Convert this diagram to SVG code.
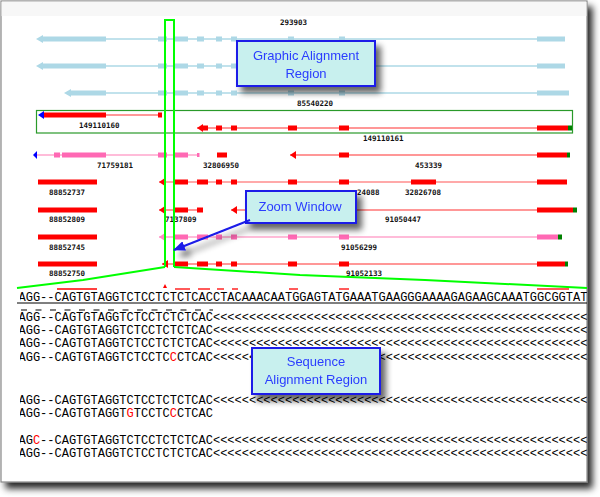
<svg xmlns="http://www.w3.org/2000/svg" width="600" height="497" viewBox="0 0 600 497">
<style>
.lb{fill:#add8e6}.lbl{stroke:#add8e6;stroke-width:1.3}
.r{fill:#ff0000}.rl{stroke:#ff3030;stroke-width:1.2}
.pk{fill:#ff69b4}.pkl{stroke:#ffa6cc;stroke-width:1.4}
.sl{stroke:#ff8c8c;stroke-width:1.4}
.gr{fill:#008000}.bl{fill:#0000ff}
.num{font-family:"DejaVu Sans Mono","Liberation Mono",monospace;font-size:7.5px;font-weight:bold;fill:#111}
.seq{font-family:"Liberation Mono","Courier New",monospace;font-size:12px;fill:#000}
.red{fill:#ff0000}
.call rect{fill:#c8f0ee;stroke:#1a1ae8;stroke-width:2}
.call text{font-family:"Liberation Sans",Arial,sans-serif;font-size:13px;fill:#2a3cff;text-anchor:middle}
.zl{fill:none;stroke:#00ff00;stroke-width:2}
</style>
<defs>
<filter id="fs" x="-5%" y="-5%" width="115%" height="115%"><feGaussianBlur in="SourceAlpha" stdDeviation="3.5"/><feOffset dx="5" dy="6"/><feComponentTransfer><feFuncA type="linear" slope="0.85"/></feComponentTransfer><feMerge><feMergeNode/><feMergeNode in="SourceGraphic"/></feMerge></filter>
<filter id="cs" x="-20%" y="-30%" width="150%" height="180%"><feGaussianBlur in="SourceAlpha" stdDeviation="3"/><feOffset dx="5" dy="6"/><feComponentTransfer><feFuncA type="linear" slope="0.6"/></feComponentTransfer><feMerge><feMergeNode/><feMergeNode in="SourceGraphic"/></feMerge></filter>
<marker id="ah" markerWidth="12" markerHeight="10" refX="11" refY="5" orient="auto" markerUnits="userSpaceOnUse"><path d="M0,0 L12,5 L0,10 z" fill="#1a1ae8"/></marker>
<clipPath id="sc"><rect x="20" y="280" width="567" height="200"/></clipPath>
</defs>

<g id="frame" filter="url(#fs)"><rect x="1" y="1" width="586" height="481" fill="#fff" stroke="#888" stroke-width="1.2"/></g>
<rect x="1.6" y="1.6" width="584.8" height="14.5" fill="#f7f7f7"/>

<g id="rowA" transform="translate(0,39)">
<line class="lbl" x1="106" y1="0" x2="565" y2="0"/>
<polygon class="lb" points="36,0 43,-4 43,4"/>
<rect class="lb" x="42" y="-2.5" width="64" height="5"/>
<rect class="lb" x="158" y="-2.5" width="9" height="5"/><rect class="lb" x="175" y="-2.5" width="13" height="5"/><rect class="lb" x="197" y="-2.5" width="7" height="5"/><rect class="lb" x="216" y="-2.5" width="6" height="5"/><rect class="lb" x="231" y="-2.5" width="6" height="5"/><rect class="lb" x="288" y="-2.5" width="6" height="5"/><rect class="lb" x="339" y="-2.5" width="6" height="5"/><rect class="lb" x="537" y="-2.5" width="28" height="5"/>
</g>
<g id="rowB" transform="translate(0,66)">
<line class="lbl" x1="106" y1="0" x2="565" y2="0"/>
<polygon class="lb" points="36,0 43,-4 43,4"/>
<rect class="lb" x="42" y="-2.5" width="64" height="5"/>
<rect class="lb" x="158" y="-2.5" width="9" height="5"/><rect class="lb" x="175" y="-2.5" width="13" height="5"/><rect class="lb" x="197" y="-2.5" width="7" height="5"/><rect class="lb" x="216" y="-2.5" width="6" height="5"/><rect class="lb" x="231" y="-2.5" width="6" height="5"/><rect class="lb" x="288" y="-2.5" width="6" height="5"/><rect class="lb" x="339" y="-2.5" width="6" height="5"/><rect class="lb" x="537" y="-2.5" width="28" height="5"/>
</g>
<g id="rowC" transform="translate(0,93)">
<line class="lbl" x1="106" y1="0" x2="569" y2="0"/>
<polygon class="lb" points="64,0 71,-4 71,4"/>
<rect class="lb" x="70" y="-2.5" width="36" height="5"/>
<rect class="lb" x="158" y="-2.5" width="9" height="5"/><rect class="lb" x="175" y="-2.5" width="13" height="5"/><rect class="lb" x="197" y="-2.5" width="7" height="5"/><rect class="lb" x="216" y="-2.5" width="6" height="5"/><rect class="lb" x="231" y="-2.5" width="6" height="5"/><rect class="lb" x="288" y="-2.5" width="6" height="5"/><rect class="lb" x="339" y="-2.5" width="6" height="5"/><rect class="lb" x="537" y="-2.5" width="32" height="5"/>
</g>

<g id="selbox"><rect x="36.5" y="110.5" width="536" height="22.5" fill="none" stroke="#2a9a2a" stroke-width="1.2"/></g>
<g id="rowD" transform="translate(0,115)">
<line class="rl" x1="106" y1="0" x2="158" y2="0"/>
<polygon class="bl" points="38,0 44,-4 44,4"/>
<rect class="r" x="44" y="-2.5" width="62" height="5"/>
<rect class="r" x="158" y="-2.5" width="4" height="5"/>
</g>
<g id="rowE" transform="translate(0,128)">
<line class="rl" x1="197" y1="0" x2="568" y2="0"/>
<polygon class="r" points="197,0 203,-4 203,4"/>
<rect class="r" x="203" y="-2.5" width="5" height="5"/><rect class="r" x="216" y="-2.5" width="6" height="5"/><rect class="r" x="231" y="-2.5" width="6" height="5"/><rect class="r" x="288" y="-2.5" width="9" height="5"/><rect class="r" x="339" y="-2.5" width="10" height="5"/><rect class="r" x="537" y="-2.5" width="31" height="5"/><rect class="gr" x="568" y="-2.5" width="4" height="5"/>
</g>
<g id="rowF" transform="translate(0,155)">
<line class="pkl" x1="36" y1="0" x2="199" y2="0"/>
<polygon class="bl" points="33,0 37,-4 37,4"/>
<rect class="pk" x="54" y="-2.5" width="6" height="5"/><rect class="pk" x="62" y="-2.5" width="44" height="5"/><rect class="pk" x="158" y="-2.5" width="9" height="5"/><rect class="pk" x="175" y="-2.5" width="13" height="5"/><rect class="pk" x="197" y="-2" width="2.5" height="4"/>
<rect class="r" x="217" y="-2.5" width="10" height="5"/>
<line class="rl" x1="290" y1="0" x2="567" y2="0"/>
<polygon class="r" points="290,0 296,-4 296,4"/>
<rect class="r" x="339" y="-2.5" width="10" height="5"/><rect class="r" x="537" y="-2.5" width="30" height="5"/><rect class="gr" x="567" y="-2.5" width="3" height="5"/>
</g>
<g id="rowG" transform="translate(0,182)">
<rect class="r" x="38" y="-2.5" width="59" height="5"/>
<line class="sl" x1="159" y1="0" x2="567" y2="0"/>
<polygon class="r" points="159,0 165,-4 165,4"/>
<rect class="r" x="175" y="-2.5" width="13" height="5"/><rect class="r" x="197" y="-2.5" width="11" height="5"/><rect class="r" x="216" y="-2.5" width="6" height="5"/><rect class="r" x="231" y="-2.5" width="6" height="5"/><rect class="r" x="288" y="-2.5" width="9" height="5"/><rect class="r" x="339" y="-2.5" width="10" height="5"/><rect class="r" x="411" y="-2.5" width="25" height="5"/><rect class="r" x="537" y="-2.5" width="30" height="5"/>
</g>
<g id="rowH" transform="translate(0,210)">
<rect class="r" x="38" y="-2.5" width="59" height="5"/>
<line class="rl" x1="159" y1="0" x2="203" y2="0"/>
<polygon class="r" points="159,0 165,-4 165,4"/>
<rect class="r" x="175" y="-2.5" width="13" height="5"/><rect class="r" x="197" y="-2.5" width="6" height="5"/>
<line class="rl" x1="231" y1="0" x2="577" y2="0"/>
<polygon class="r" points="231,0 237,-4 237,4"/>
<rect class="r" x="537" y="-2.5" width="36" height="5"/><rect class="gr" x="573" y="-2.5" width="4" height="5"/>
</g>
<g id="rowI" transform="translate(0,237)">
<rect class="r" x="38" y="-2.5" width="59" height="5"/>
<line class="pkl" x1="159" y1="0" x2="562" y2="0"/>
<polygon class="pk" points="159,0 165,-4 165,4" style="fill:#ff8cc6"/>
<rect class="pk" x="175" y="-2.5" width="13" height="5"/><rect class="pk" x="197" y="-2.5" width="11" height="5"/><rect class="pk" x="216" y="-2.5" width="6" height="5"/><rect class="pk" x="231" y="-2.5" width="6" height="5"/><rect class="pk" x="288" y="-2.5" width="9" height="5"/><rect class="pk" x="339" y="-2.5" width="10" height="5"/><rect class="pk" x="537" y="-2.5" width="21" height="5"/><rect class="gr" x="558" y="-2.5" width="4" height="5"/>
</g>
<g id="rowJ" transform="translate(0,264)">
<rect class="r" x="38" y="-2.5" width="59" height="5"/>
<line class="rl" x1="162" y1="0" x2="568" y2="0"/>
<polygon class="r" points="162,0 168,-4 168,4"/>
<rect class="r" x="175" y="-2.5" width="13" height="5"/><rect class="r" x="197" y="-2.5" width="11" height="5"/><rect class="r" x="216" y="-2.5" width="6" height="5"/><rect class="r" x="231" y="-2.5" width="6" height="5"/><rect class="r" x="288" y="-2.5" width="9" height="5"/><rect class="r" x="339" y="-2.5" width="10" height="5"/><rect class="r" x="537" y="-2.5" width="28" height="5"/><rect class="gr" x="565" y="-2.5" width="3" height="5"/>
</g>

<g id="labels" class="num">
<text x="280" y="25">293903</text>
<text x="297" y="106">85540220</text>
<text x="79" y="128">149110160</text>
<text x="363" y="141">149110161</text>
<text x="97" y="168">71759181</text>
<text x="203" y="168">32806950</text>
<text x="415" y="168">453339</text>
<text x="49" y="195">88852737</text>
<text x="357" y="195">24088</text>
<text x="405" y="195">32826708</text>
<text x="49" y="222">88852809</text>
<text x="165" y="222">7137809</text>
<text x="385" y="222">91050447</text>
<text x="49" y="250">88852745</text>
<text x="341" y="250">91056299</text>
<text x="49" y="276">88852750</text>
<text x="346" y="276">91052133</text>
</g>

<g id="connectors">
<path class="zl" d="M165,267 V20 H174 V267"/>
<polyline class="zl" points="165,267 83,280 17,288"/>
<polyline class="zl" points="174,267 300,275 425,280 587,288"/>
</g>

<g id="sequences">
<g stroke="#ff0000" stroke-width="1.3">
<line x1="57" y1="289" x2="97" y2="289"/><line x1="175" y1="289" x2="190" y2="289"/><line x1="198" y1="289" x2="210" y2="289"/><line x1="217" y1="289" x2="224" y2="289"/><line x1="232" y1="289" x2="238" y2="289"/><line x1="289" y1="289" x2="298" y2="289"/><line x1="339" y1="289" x2="349" y2="289"/><line x1="537" y1="289" x2="569" y2="289"/>
</g>
<polygon points="163,288 167,288 165,284" fill="#ff0000"/>
<line x1="17" y1="303" x2="587" y2="303" stroke="#000" stroke-width="1"/>
<line x1="21" y1="310" x2="213" y2="310" stroke="#000" stroke-width="1" stroke-dasharray="6 8.5"/>
<g clip-path="url(#sc)" class="seq">
<text x="18.5" y="300.5">AGG--CAGTGTAGGTCTCCTCTCTCACCTACAAACAATGGAGTATGAAATGAAGGGAAAAGAGAAGCAAATGGCGGTAT</text>
<text x="18.5" y="320.5">AGG--CAGTGTAGGTCTCCTCTCTCAC&lt;&lt;&lt;&lt;&lt;&lt;&lt;&lt;&lt;&lt;&lt;&lt;&lt;&lt;&lt;&lt;&lt;&lt;&lt;&lt;&lt;&lt;&lt;&lt;&lt;&lt;&lt;&lt;&lt;&lt;&lt;&lt;&lt;&lt;&lt;&lt;&lt;&lt;&lt;&lt;&lt;&lt;&lt;&lt;&lt;&lt;&lt;&lt;&lt;&lt;&lt;&lt;&lt;</text>
<text x="18.5" y="333.5">AGG--CAGTGTAGGTCTCCTCTCTCAC&lt;&lt;&lt;&lt;&lt;&lt;&lt;&lt;&lt;&lt;&lt;&lt;&lt;&lt;&lt;&lt;&lt;&lt;&lt;&lt;&lt;&lt;&lt;&lt;&lt;&lt;&lt;&lt;&lt;&lt;&lt;&lt;&lt;&lt;&lt;&lt;&lt;&lt;&lt;&lt;&lt;&lt;&lt;&lt;&lt;&lt;&lt;&lt;&lt;&lt;&lt;&lt;&lt;</text>
<text x="18.5" y="347">AGG--CAGTGTAGGTCTCCTCTCTCAC&lt;&lt;&lt;&lt;&lt;&lt;&lt;&lt;&lt;&lt;&lt;&lt;&lt;&lt;&lt;&lt;&lt;&lt;&lt;&lt;&lt;&lt;&lt;&lt;&lt;&lt;&lt;&lt;&lt;&lt;&lt;&lt;&lt;&lt;&lt;&lt;&lt;&lt;&lt;&lt;&lt;&lt;&lt;&lt;&lt;&lt;&lt;&lt;&lt;&lt;&lt;&lt;&lt;</text>
<text x="18.5" y="360.5">AGG--CAGTGTAGGTCTCCTC<tspan class="red">C</tspan>CTCAC&lt;&lt;&lt;&lt;&lt;&lt;&lt;&lt;&lt;&lt;&lt;&lt;&lt;&lt;&lt;&lt;&lt;&lt;&lt;&lt;&lt;&lt;&lt;&lt;&lt;&lt;&lt;&lt;&lt;&lt;&lt;&lt;&lt;&lt;&lt;&lt;&lt;&lt;&lt;&lt;&lt;&lt;&lt;&lt;&lt;&lt;&lt;&lt;&lt;&lt;&lt;&lt;&lt;</text>
<text x="18.5" y="403.5">AGG--CAGTGTAGGTCTCCTCTCTCAC&lt;&lt;&lt;&lt;&lt;&lt;&lt;&lt;&lt;&lt;&lt;&lt;&lt;&lt;&lt;&lt;&lt;&lt;&lt;&lt;&lt;&lt;&lt;&lt;&lt;&lt;&lt;&lt;&lt;&lt;&lt;&lt;&lt;&lt;&lt;&lt;&lt;&lt;&lt;&lt;&lt;&lt;&lt;&lt;&lt;&lt;&lt;&lt;&lt;&lt;&lt;&lt;&lt;</text>
<text x="18.5" y="416.5">AGG--CAGTGTAGGT<tspan class="red">G</tspan>TCCTC<tspan class="red">C</tspan>CTCAC</text>
<text x="18.5" y="443.5">AG<tspan class="red">C</tspan>--CAGTGTAGGTCTCCTCTCTCAC&lt;&lt;&lt;&lt;&lt;&lt;&lt;&lt;&lt;&lt;&lt;&lt;&lt;&lt;&lt;&lt;&lt;&lt;&lt;&lt;&lt;&lt;&lt;&lt;&lt;&lt;&lt;&lt;&lt;&lt;&lt;&lt;&lt;&lt;&lt;&lt;&lt;&lt;&lt;&lt;&lt;&lt;&lt;&lt;&lt;&lt;&lt;&lt;&lt;&lt;&lt;&lt;&lt;</text>
<text x="18.5" y="456.5">AGG--CAGTGTAGGTCTCCTCTCTCAC&lt;&lt;&lt;&lt;&lt;&lt;&lt;&lt;&lt;&lt;&lt;&lt;&lt;&lt;&lt;&lt;&lt;&lt;&lt;&lt;&lt;&lt;&lt;&lt;&lt;&lt;&lt;&lt;&lt;&lt;&lt;&lt;&lt;&lt;&lt;&lt;&lt;&lt;&lt;&lt;&lt;&lt;&lt;&lt;&lt;&lt;&lt;&lt;&lt;&lt;&lt;&lt;&lt;</text>
</g>
</g>

<g id="callout-graphic" class="call" filter="url(#cs)">
<rect x="237" y="41" width="138" height="45"/>
<text x="306" y="59.5">Graphic Alignment</text>
<text x="306" y="78">Region</text>
</g>
<g id="callout-zoom" class="call" filter="url(#cs)">
<rect x="246" y="191" width="110" height="32"/>
<text x="300" y="210.5">Zoom Window</text>
<line x1="250" y1="220" x2="174" y2="250" stroke="#1a1ae8" stroke-width="2" marker-end="url(#ah)"/>
</g>
<g id="callout-sequence" class="call" filter="url(#cs)">
<rect x="252" y="348" width="128" height="46"/>
<text x="316" y="366">Sequence</text>
<text x="316" y="384">Alignment Region</text>
</g>
</svg>
